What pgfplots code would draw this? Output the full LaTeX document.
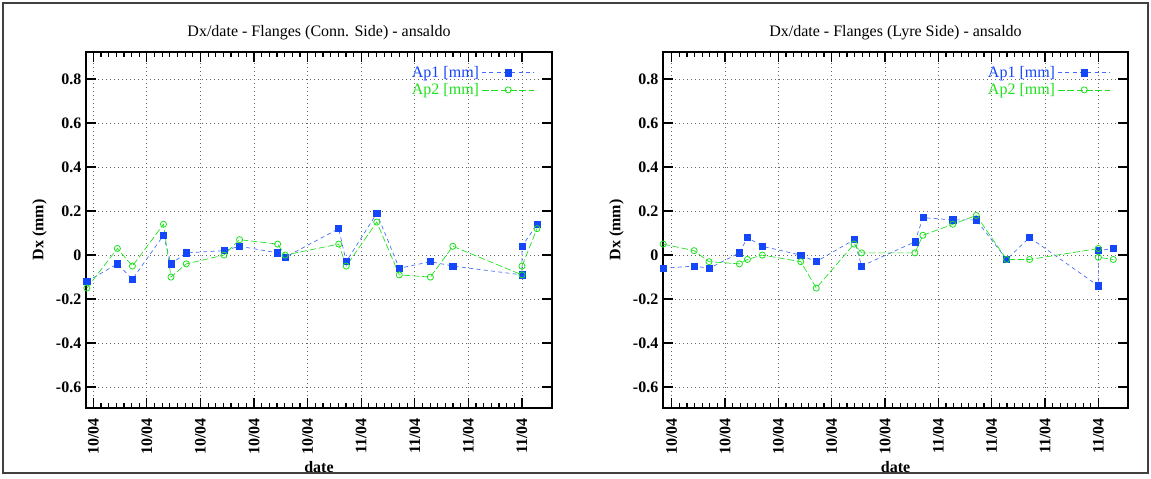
\documentclass[border=0pt]{standalone}
\usepackage{fontspec}
\setmainfont{Liberation Serif}
\usepackage{pgfplots}
\pgfplotsset{compat=1.18}
\definecolor{apblue}{RGB}{20,70,250}
\definecolor{apgreen}{RGB}{30,225,30}
\pgfplotsset{
  myax/.style={
    scale only axis,
    height=267pt,
    anchor=south west,
    ymin=-0.695, ymax=0.923,
    ytick={-0.6,-0.4,-0.2,0,0.2,0.4,0.6,0.8},
    yticklabels={-0.6,-0.4,-0.2,0,0.2,0.4,0.6,0.8},
    xtick={0,1,2,3,4,5,6,7,8},
    xticklabels={10/04,10/04,10/04,10/04,10/04,11/04,11/04,11/04,11/04},
    minor x tick num=6,
    tick align=inside,
    major tick length=7.5pt,
    minor tick length=3.75pt,
    axis line style={line width=0.9pt},
    every tick/.style={black, line width=0.9pt},
    grid=major,
    major grid style={black!60, line width=0.6pt, dash pattern=on 0.8pt off 2.2pt},
    yticklabel style={font=\bfseries\fontsize{12}{14}\selectfont},
    xticklabel style={rotate=90, anchor=east, font=\bfseries\fontsize{12}{14}\selectfont, xshift=-4pt},
    xlabel={\bfseries date},
    ylabel={\bfseries Dx (mm)},
    label style={font=\fontsize{12}{14}\selectfont},
    xlabel style={yshift=2pt},
    title style={anchor=center, yshift=8.5pt, font=\fontsize{12}{14}\selectfont},
    legend style={at={(1,1)}, anchor=north east, xshift=-12.75pt, yshift=-8.5pt,
      draw=none, fill=none, font=\fontsize{12}{13}\selectfont, row sep=-1pt, inner sep=0pt},
    legend cell align=right,
    legend plot pos=right,
    legend image code/.code={\draw[mark repeat=2,mark phase=2,##1] plot coordinates {(0cm,0cm) (0.69cm,0cm) (1.38cm,0cm)};},
    clip=false,
  },
  s1/.style={apblue!80, line width=0.5pt, dash pattern=on 3pt off 2.5pt, mark=square*, mark size=2.3pt, mark options={solid, fill=apblue, draw=apblue}},
  s2/.style={apgreen, line width=0.5pt, dash pattern=on 5pt off 2pt, mark=o, mark size=2.3pt, mark options={solid, draw=apgreen, line width=0.6pt}},
}
\begin{document}
\begin{tikzpicture}
\path (0,0) rectangle (863.25pt,358.5pt);
\begin{axis}[myax, at={(64.5pt,52.5pt)}, width=349.5pt,
  xmin=-0.136, xmax=8.56,
  title={Dx/date - Flanges (Conn. Side) - ansaldo}]
\addplot[s1] coordinates {
(-0.12,-0.12) (0.45,-0.04) (0.73,-0.11) (1.31,0.09) (1.45,-0.04) (1.735,0.01)
(2.44,0.02) (2.73,0.04) (3.44,0.01) (3.58,-0.01) (4.58,0.12) (4.72,-0.03)
(5.29,0.19) (5.71,-0.06) (6.29,-0.03) (6.71,-0.05) (8.0,-0.09) (8.0,0.04) (8.28,0.14)};
\addlegendentry{\textcolor{apblue}{Ap1 [mm]}\hspace{8pt}}
\addplot[s2] coordinates {
(-0.12,-0.15) (0.45,0.03) (0.73,-0.05) (1.31,0.14) (1.45,-0.10) (1.735,-0.04)
(2.44,0.00) (2.73,0.07) (3.44,0.05) (3.58,0.00) (4.58,0.05) (4.72,-0.05)
(5.29,0.15) (5.71,-0.09) (6.29,-0.10) (6.71,0.04) (8.0,-0.09) (8.0,-0.05) (8.28,0.12)};
\addlegendentry{\textcolor{apgreen}{Ap2 [mm]}\hspace{8pt}}
\end{axis}
\begin{axis}[myax, at={(497.25pt,52.5pt)}, width=348.75pt,
  xmin=-0.163, xmax=8.556,
  title={Dx/date - Flanges (Lyre Side) - ansaldo}]
\addplot[s1] coordinates {
(-0.16,-0.06) (0.42,-0.05) (0.70,-0.06) (1.27,0.01) (1.42,0.08) (1.70,0.04)
(2.42,0.00) (2.71,-0.03) (3.42,0.07) (3.56,-0.05) (4.56,0.06) (4.71,0.17)
(5.27,0.16) (5.71,0.16) (6.28,-0.02) (6.71,0.08) (8.0,-0.14) (8.0,0.02) (8.28,0.03)};
\addlegendentry{\textcolor{apblue}{Ap1 [mm]}\hspace{8pt}}
\addplot[s2] coordinates {
(-0.16,0.05) (0.42,0.02) (0.70,-0.03) (1.27,-0.04) (1.42,-0.02) (1.70,0.00)
(2.42,-0.03) (2.71,-0.15) (3.42,0.05) (3.56,0.01) (4.56,0.01) (4.71,0.09)
(5.27,0.14) (5.71,0.18) (6.28,-0.02) (6.71,-0.02) (8.0,0.03) (8.0,-0.01) (8.28,-0.02)};
\addlegendentry{\textcolor{apgreen}{Ap2 [mm]}\hspace{8pt}}
\end{axis}
\draw[black!75, line width=0.9pt] (2.25pt,3.75pt) rectangle (861pt,356.25pt);
\end{tikzpicture}
\end{document}
